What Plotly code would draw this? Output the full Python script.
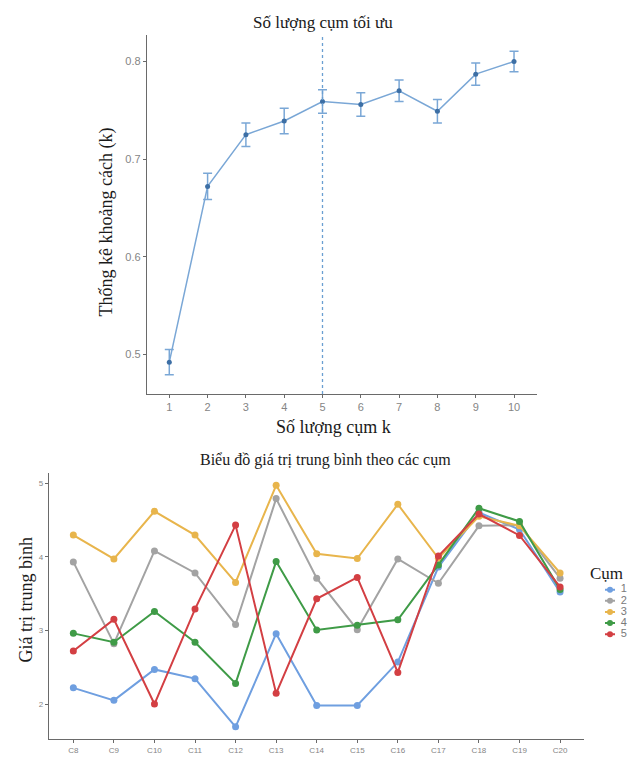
import plotly.graph_objects as go

PAGE_W, PAGE_H = 637, 763
OFF = 8  # default body margin of the page
W, H = PAGE_W - 2 * OFF, PAGE_H - 2 * OFF
SY = 1.006  # small vertical correction

# ---- Top chart data: gap statistic ----
k_values = [1, 2, 3, 4, 5, 6, 7, 8, 9, 10]
gap_values = [0.492, 0.672, 0.725, 0.739, 0.759, 0.756, 0.770, 0.749, 0.787, 0.800]
gap_se = [0.013, 0.0135, 0.012, 0.013, 0.012, 0.012, 0.011, 0.012, 0.0115, 0.0105]
optimal_k = 5
top_yticks = [0.5, 0.6, 0.7, 0.8]

# ---- Bottom chart data: cluster means ----
variables = ["C8", "C9", "C10", "C11", "C12", "C13", "C14", "C15", "C16", "C17", "C18", "C19", "C20"]
cluster_names = ["1", "2", "3", "4", "5"]
cluster1 = [2.22, 2.05, 2.47, 2.345, 1.69, 2.955, 1.98, 1.98, 2.57, 3.86, 4.60, 4.37, 3.52]
cluster2 = [3.93, 2.82, 4.08, 3.78, 3.08, 4.79, 3.71, 3.01, 3.97, 3.64, 4.42, 4.43, 3.71]
cluster3 = [4.295, 3.97, 4.618, 4.295, 3.652, 4.97, 4.04, 3.976, 4.713, 3.98, 4.55, 4.42, 3.78]
cluster4 = [2.96, 2.84, 3.257, 2.84, 2.28, 3.935, 3.005, 3.07, 3.145, 3.89, 4.66, 4.48, 3.555]
cluster5 = [2.72, 3.15, 2.00, 3.29, 4.43, 2.145, 3.43, 3.72, 2.43, 4.01, 4.58, 4.29, 3.59]
cluster_values = [cluster1, cluster2, cluster3, cluster4, cluster5]
cluster_colors = ["#6f9fe0", "#a3a3a3", "#e8b54c", "#3f9b47", "#d33f43"]
bottom_yticks = [2, 3, 4, 5]

SERIF = "Liberation Serif"
SANS = "Liberation Sans"
TICKC = "#858585"
AXC = "#6a6a6a"

def px_x(p):
    return (p - OFF) / W

def px_y(p):
    return 1 - (p - OFF) * SY / H

fig = go.Figure()

# Top: line + error bars
fig.add_trace(go.Scatter(
    x=k_values, y=gap_values, mode="lines+markers",
    line=dict(color="#7aa7d6", width=1.5),
    marker=dict(color="#3d6fa5", size=5),
    error_y=dict(type="data", array=gap_se, visible=True, color="#7aa7d6", thickness=1.5, width=4.5),
    xaxis="x", yaxis="y", showlegend=False, hoverinfo="x+y",
))

# Bottom: cluster lines
for name, vals, col in zip(cluster_names, cluster_values, cluster_colors):
    fig.add_trace(go.Scatter(
        x=variables, y=vals, mode="lines+markers", name=name,
        line=dict(color=col, width=2), marker=dict(color=col, size=7),
        xaxis="x2", yaxis="y2", showlegend=False,
    ))

# Custom compact legend (own small axes)
for i, (name, col) in enumerate(zip(cluster_names, cluster_colors)):
    fig.add_trace(go.Scatter(
        x=[5, 15], y=[i + 1, i + 1], mode="lines",
        line=dict(color=col, width=2), xaxis="x3", yaxis="y3",
        showlegend=False, hoverinfo="skip",
    ))
    fig.add_trace(go.Scatter(
        x=[10], y=[i + 1], mode="markers+text", text=["  " + name],
        textposition="middle right", textfont=dict(family=SANS, size=11, color="#7a7a7a"),
        marker=dict(color=col, size=6), xaxis="x3", yaxis="y3",
        showlegend=False, hoverinfo="skip",
    ))

fig.add_vline(x=optimal_k, line=dict(color="#6a9fd2", width=1.3, dash="3px,3px"), xref="x", yref="y")

axis_common = dict(
    showgrid=False, zeroline=False, showline=True, linecolor=AXC, linewidth=1.3,
    ticks="outside", ticklen=3, tickcolor=AXC, tickwidth=1,
)

fig.update_layout(
    width=W, height=H,
    margin=dict(l=0, r=0, t=0, b=0),
    paper_bgcolor="white", plot_bgcolor="white",
    showlegend=False,
    xaxis=dict(domain=[px_x(147), px_x(537)], range=[0.418, 10.6], anchor="y",
               tickvals=k_values, tickfont=dict(family=SANS, size=11, color=TICKC), **axis_common),
    yaxis=dict(domain=[px_y(397), px_y(35)], range=[0.4593, 0.8273], anchor="x",
               tickvals=top_yticks, tickformat=".1f",
               tickfont=dict(family=SANS, size=11, color=TICKC), **axis_common),
    xaxis2=dict(domain=[px_x(49), px_x(584)], range=[-0.6, 12.59], anchor="y2", type="category",
                categoryorder="array", categoryarray=variables,
                tickfont=dict(family=SANS, size=8, color=TICKC), **axis_common),
    yaxis2=dict(domain=[px_y(744.3), px_y(476.7)], range=[1.528, 5.135], anchor="x2",
                tickvals=bottom_yticks, tickfont=dict(family=SANS, size=8, color=TICKC), **axis_common),
    xaxis3=dict(domain=[px_x(600), px_x(628)], range=[0, 28], visible=False, anchor="y3"),
    yaxis3=dict(domain=[px_y(644.6), px_y(588.4)], range=[5.5, 0.5], visible=False, anchor="x3"),
)

annots = [
    dict(text="Số lượng cụm tối ưu", x=px_x(323), y=px_y(23), size=17),
    dict(text="Số lượng cụm k", x=px_x(333), y=px_y(430), size=18),
    dict(text="Thống kê khoảng cách (k)", x=px_x(106), y=px_y(224), size=18, angle=-90),
    dict(text="Biểu đồ giá trị trung bình theo các cụm", x=px_x(325), y=px_y(463), size=16),
    dict(text="Giá trị trung bình", x=px_x(26), y=px_y(605), size=18, angle=-90),
    dict(text="Cụm", x=px_x(606), y=px_y(578), size=17),
]
for a in annots:
    fig.add_annotation(
        text=a["text"], x=a["x"], y=a["y"], xref="paper", yref="paper",
        xanchor="center", yanchor="middle", showarrow=False,
        textangle=a.get("angle", 0),
        font=dict(family=SERIF, size=a["size"], color="#1a1a1a"),
    )

fig.write_html("out.html")
